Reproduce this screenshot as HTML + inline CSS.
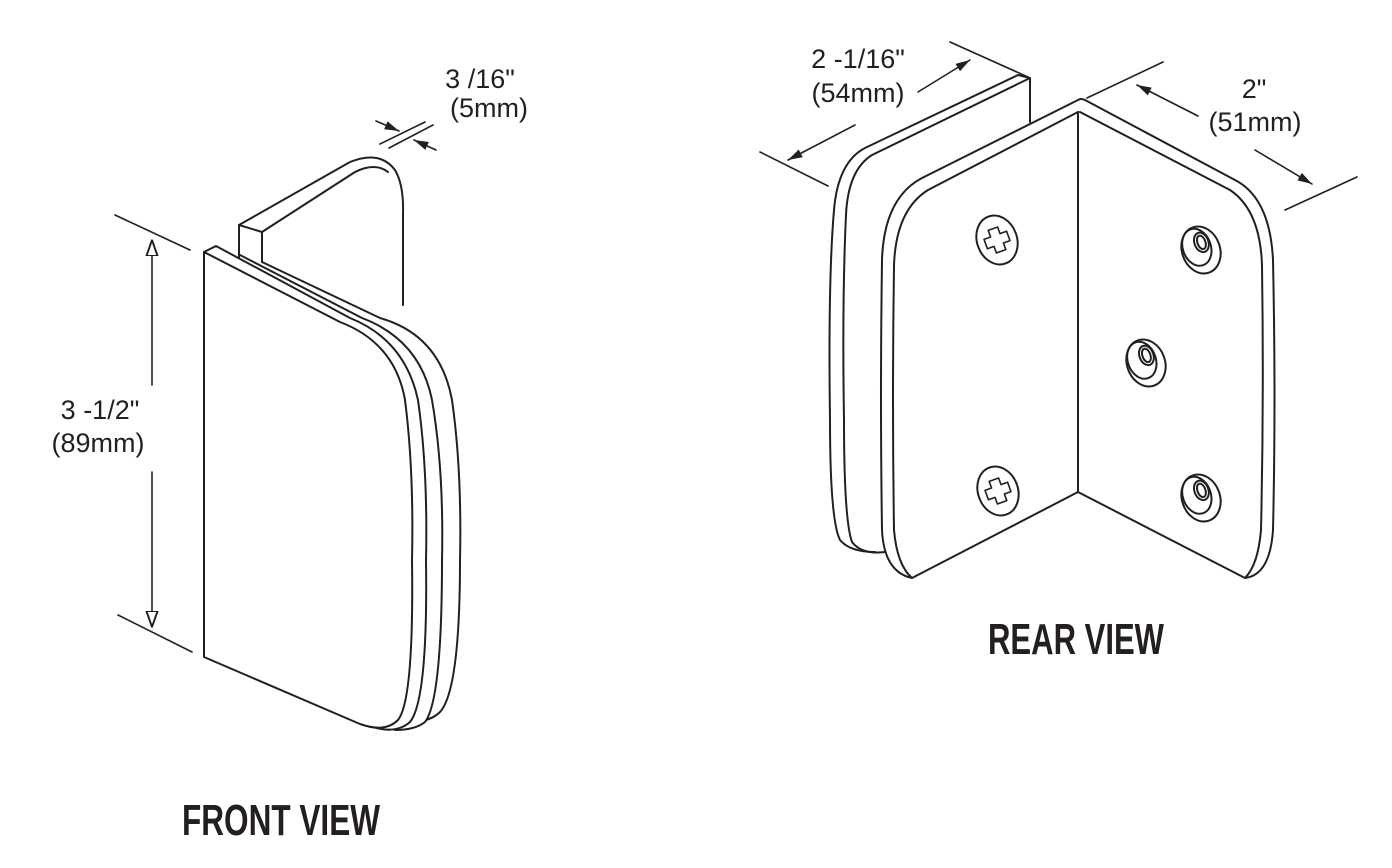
<!DOCTYPE html>
<html><head><meta charset="utf-8"><style>
html,body{margin:0;padding:0;background:#fff;width:1392px;height:868px;overflow:hidden}
svg{display:block}
.t{font-family:"Liberation Sans",sans-serif;font-size:27px;fill:#231f20}
.h{font-family:"Liberation Sans Narrow","Liberation Sans",sans-serif;font-weight:bold;font-size:44px;fill:#231f20}
</style></head><body>
<svg width="1392" height="868" viewBox="0 0 1392 868" xmlns="http://www.w3.org/2000/svg">
<defs>
<marker id="a" viewBox="0 0 10 10" refX="10" refY="5" markerWidth="9" markerHeight="9" orient="auto-start-reverse"><path d="M0,2 L10,5 L0,8 Z" fill="#231f20"/></marker>
<marker id="o" viewBox="0 0 10 10" refX="10" refY="5" markerWidth="10" markerHeight="14" orient="auto-start-reverse"><path d="M0,1.5 L10,5 L0,8.5 Z" fill="#fff" stroke="#231f20" stroke-width="1.2"/></marker>
</defs>
<g fill="none" stroke="#231f20" stroke-width="2" stroke-linejoin="round" stroke-linecap="round">
<!-- FRONT VIEW -->
<path d="M239,262 L239,225 L350,162 Q380,150 395,170 Q404,185 403,215 L403,305" fill="#fff"/>
<path d="M262,232 L355,172 Q375,162 388,172" />
<path d="M239,225 L262,232 L262,262"/>
<path d="M262,262 L380,318 Q440,335 452,400 Q462,470 460,560 Q460,690 440,712 Q430,722 410,722" fill="#fff"/>
<path d="M240,255 L362,318 Q420,340 432,400 Q444,470 442,560 Q442,700 425,722 Q415,730 395,730" fill="#fff"/>
<path d="M204,252 L216,246 L350,318 Q405,340 418,400 Q428,470 426,560 Q428,700 410,722 Q395,735 370,726" fill="#fff"/>
<path d="M204,252 L340,322 Q395,343 405,400 Q414,470 412,560 Q414,700 398,720 Q385,733 360,724 L204,657 Z" fill="#fff"/>
<line x1="115" y1="215" x2="190" y2="250" stroke-width="1.6"/>
<line x1="118" y1="615" x2="192" y2="652" stroke-width="1.6"/>
<line x1="152" y1="385" x2="152" y2="240" stroke-width="1.6" marker-end="url(#o)"/>
<line x1="152" y1="472" x2="152" y2="627" stroke-width="1.6" marker-end="url(#o)"/>
<line x1="380" y1="144" x2="425" y2="122" stroke-width="1.6"/>
<line x1="389" y1="148" x2="433" y2="125" stroke-width="1.6"/>
<line x1="376" y1="121" x2="399" y2="131" stroke-width="1.6" marker-end="url(#a)"/>
<line x1="436" y1="150" x2="414" y2="140" stroke-width="1.6" marker-end="url(#a)"/>

<!-- REAR VIEW -->
<path d="M1030,122 L1030,78 L1018,75 L865,148 Q838,162 834,210 Q828,280 830,420 Q830,520 840,540 Q850,552 875,552" fill="#fff"/>
<path d="M1030,78 L872,155 Q848,170 846,215 Q842,300 844,420 Q844,520 852,542 Q862,555 885,552"/>
<path d="M1078,100 L922,178 Q884,198 882,260 Q880,400 882,530 Q884,572 912,578 L1078,492 L1245,578 Q1270,575 1273,530 Q1276,400 1273,260 Q1270,198 1235,180 L1085,100 Q1081,98 1078,100 Z" fill="#fff"/>
<path d="M1078,112 L928,190 Q896,210 894,265 Q892,400 894,530 Q897,565 912,578"/>
<path d="M1080,112 L1230,190 Q1260,210 1262,265 Q1264,400 1261,530 Q1258,565 1245,578"/>
<line x1="1078" y1="112" x2="1078" y2="492"/>
<!-- screws -->
<g transform="rotate(-20 997 240)"><ellipse cx="997" cy="240" rx="20" ry="25"/><path d="M992,228 L1002,228 L1002,235 L1009,235 L1009,245 L1002,245 L1002,252 L992,252 L992,245 L985,245 L985,235 L992,235 Z" stroke-width="1.6"/></g>
<g transform="rotate(-20 998 491)"><ellipse cx="998" cy="491" rx="20" ry="25"/><path d="M993,479 L1003,479 L1003,486 L1010,486 L1010,496 L1003,496 L1003,503 L993,503 L993,496 L986,496 L986,486 L993,486 Z" stroke-width="1.6"/></g>
<g transform="rotate(-20 1201 250)"><ellipse cx="1201" cy="250" rx="19" ry="24"/><ellipse cx="1198" cy="246" rx="14" ry="19"/><ellipse cx="1204" cy="243" rx="7" ry="10"/><ellipse cx="1204" cy="243" rx="4" ry="7"/></g>
<g transform="rotate(-20 1146 363)"><ellipse cx="1146" cy="363" rx="19" ry="24"/><ellipse cx="1143" cy="359" rx="14" ry="19"/><ellipse cx="1149" cy="356" rx="7" ry="10"/><ellipse cx="1149" cy="356" rx="4" ry="7"/></g>
<g transform="rotate(-20 1201 498)"><ellipse cx="1201" cy="498" rx="19" ry="24"/><ellipse cx="1198" cy="494" rx="14" ry="19"/><ellipse cx="1204" cy="491" rx="7" ry="10"/><ellipse cx="1204" cy="491" rx="4" ry="7"/></g>
<line x1="950" y1="42" x2="1028" y2="77" stroke-width="1.6"/>
<line x1="760" y1="152" x2="828" y2="186" stroke-width="1.6"/>
<line x1="855" y1="125" x2="788" y2="160" stroke-width="1.6" marker-end="url(#a)"/>
<line x1="918" y1="92" x2="970" y2="60" stroke-width="1.6" marker-end="url(#a)"/>
<line x1="1087" y1="98" x2="1163" y2="62" stroke-width="1.6"/>
<line x1="1285" y1="210" x2="1357" y2="177" stroke-width="1.6"/>
<line x1="1198" y1="116" x2="1137" y2="85" stroke-width="1.6" marker-end="url(#a)"/>
<line x1="1255" y1="150" x2="1312" y2="184" stroke-width="1.6" marker-end="url(#a)"/>
</g>
<text class="t" x="480" y="88" text-anchor="middle">3 /16"</text>
<text class="t" x="489" y="117" text-anchor="middle">(5mm)</text>
<text class="t" x="100" y="419" text-anchor="middle">3 -1/2"</text>
<text class="t" x="98" y="452" text-anchor="middle">(89mm)</text>
<text class="t" x="858" y="68" text-anchor="middle">2 -1/16"</text>
<text class="t" x="858" y="102" text-anchor="middle">(54mm)</text>
<text class="t" x="1254" y="98" text-anchor="middle">2"</text>
<text class="t" x="1255" y="131" text-anchor="middle">(51mm)</text>
<text class="h" x="182" y="835" textLength="198" lengthAdjust="spacingAndGlyphs">FRONT VIEW</text>
<text class="h" x="988" y="654" textLength="176" lengthAdjust="spacingAndGlyphs">REAR VIEW</text>
</svg>
</body></html>
